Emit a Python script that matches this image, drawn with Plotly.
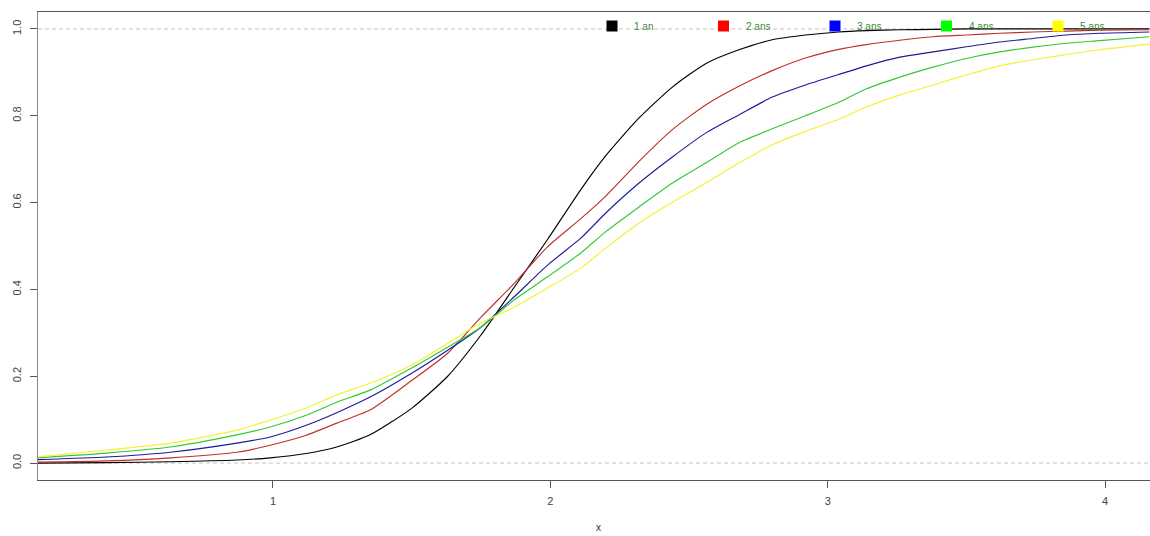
import plotly.graph_objects as go

# Common x grid for the cumulative curves
x = [0.15, 0.40, 0.63, 0.87, 0.99, 1.12, 1.23, 1.35, 1.50, 1.63, 1.75, 1.87,
     1.99, 2.11, 2.20, 2.32, 2.44, 2.56, 2.68, 2.80, 2.92, 3.04, 3.14, 3.26,
     3.38, 3.50, 3.62, 3.74, 3.86, 3.98, 4.16]

an1 = [0.000, 0.001, 0.003, 0.007, 0.012, 0.022, 0.037, 0.065, 0.126, 0.200,
       0.295, 0.405, 0.515, 0.630, 0.708, 0.795, 0.866, 0.920, 0.952, 0.975,
       0.986, 0.993, 0.996, 0.998, 0.999, 1.000, 1.000, 1.000, 1.000, 1.000, 1.000]

ans2 = [0.002, 0.005, 0.012, 0.025, 0.041, 0.064, 0.092, 0.122, 0.190, 0.253,
        0.336, 0.414, 0.498, 0.563, 0.615, 0.695, 0.768, 0.825, 0.868, 0.904,
        0.933, 0.953, 0.964, 0.974, 0.982, 0.986, 0.990, 0.993, 0.995, 0.997, 0.998]

ans3 = [0.008, 0.014, 0.025, 0.046, 0.060, 0.087, 0.116, 0.152, 0.207, 0.260,
        0.313, 0.383, 0.456, 0.518, 0.576, 0.645, 0.705, 0.760, 0.802, 0.843,
        0.871, 0.895, 0.915, 0.935, 0.947, 0.959, 0.970, 0.978, 0.986, 0.990, 0.993]

ans4 = [0.012, 0.023, 0.037, 0.065, 0.083, 0.110, 0.140, 0.168, 0.219, 0.267,
        0.313, 0.376, 0.429, 0.484, 0.533, 0.590, 0.645, 0.691, 0.738, 0.770,
        0.800, 0.831, 0.862, 0.889, 0.912, 0.932, 0.947, 0.958, 0.967, 0.973, 0.982]

ans5 = [0.014, 0.030, 0.046, 0.076, 0.099, 0.127, 0.157, 0.184, 0.226, 0.276,
        0.323, 0.359, 0.403, 0.449, 0.495, 0.553, 0.601, 0.645, 0.691, 0.733,
        0.764, 0.792, 0.820, 0.848, 0.871, 0.894, 0.915, 0.929, 0.941, 0.952, 0.965]

labels = ["1 an", "2 ans", "3 ans", "4 ans", "5 ans"]
series = [an1, ans2, ans3, ans4, ans5]
line_colors = ["#000000", "#c0302a", "#1c1c9c", "#34c834", "#f2f232"]
key_colors = ["#000000", "#ff0000", "#0000ff", "#00ff00", "#ffff00"]

x_ticks = [1, 2, 3, 4]
y_ticks = [0.0, 0.2, 0.4, 0.6, 0.8, 1.0]

W, H = 1150, 536
M_L, M_R, M_T, M_B = 38, 0, 12, 56

fig = go.Figure()

# Reference lines at 0 and 1
for level in (0, 1):
    fig.add_hline(y=level, line=dict(color="#c4c4c4", width=1, dash="4px,3px"), layer="below")

for lab, ys, col in zip(labels, series, line_colors):
    fig.add_trace(go.Scatter(
        x=x, y=ys, mode="lines", name=lab,
        line=dict(color=col, width=1.15, shape="spline", smoothing=0.6),
        showlegend=False,
    ))

# Key along the top edge: coloured squares with green labels
plot_w = W - M_L - M_R
plot_h = H - M_T - M_B
key_x0, key_step, key_y = 612, 111.5, 26
sq = 11
for i, (lab, col) in enumerate(zip(labels, key_colors)):
    cx = key_x0 + i * key_step
    px = (cx - M_L) / plot_w
    py = (H - M_B - key_y) / plot_h
    hw = sq / 2 / plot_w
    hh = sq / 2 / plot_h
    fig.add_shape(type="rect", xref="paper", yref="paper",
                  x0=px - hw, x1=px + hw, y0=py - hh, y1=py + hh,
                  line=dict(width=0), fillcolor=col)
    fig.add_annotation(xref="paper", yref="paper", x=(cx + 20 - M_L) / plot_w, y=py,
                       text=lab, showarrow=False, xanchor="left", yanchor="middle",
                       font=dict(size=10, color="#3d8a3d", family="Arial, Liberation Sans"))

# Axis title
fig.add_annotation(xref="paper", yref="paper", x=(598 - M_L) / plot_w, y=0, yshift=-47,
                   text="x", showarrow=False, yanchor="middle",
                   font=dict(size=10, color="#333333", family="Arial, Liberation Sans"))

fig.update_layout(
    width=W, height=H,
    margin=dict(l=M_L, r=M_R, t=M_T, b=M_B),
    paper_bgcolor="white", plot_bgcolor="white",
    showlegend=False,
    font=dict(family="Arial, Liberation Sans", size=11, color="#444444"),
)
fig.update_xaxes(
    range=[0.153, 4.162], tickvals=x_ticks, ticktext=[str(v) for v in x_ticks],
    showgrid=False, zeroline=False, showline=True, linecolor="#555555", linewidth=1,
    mirror=True, ticks="outside", ticklen=7, tickcolor="#555555",
    tickfont=dict(size=11, color="#444444"), ticklabelstandoff=4,
)
fig.update_yaxes(
    range=[-0.039, 1.039], tickvals=y_ticks, ticktext=[f"{v:.1f}" for v in y_ticks],
    showgrid=False, zeroline=False, showline=True, linecolor="#888888", linewidth=1,
    mirror=False, ticks="outside", ticklen=7, tickcolor="#555555", tickangle=-90,
    tickfont=dict(size=11, color="#444444"), ticklabelstandoff=5,
)

fig.write_html("out.html")
